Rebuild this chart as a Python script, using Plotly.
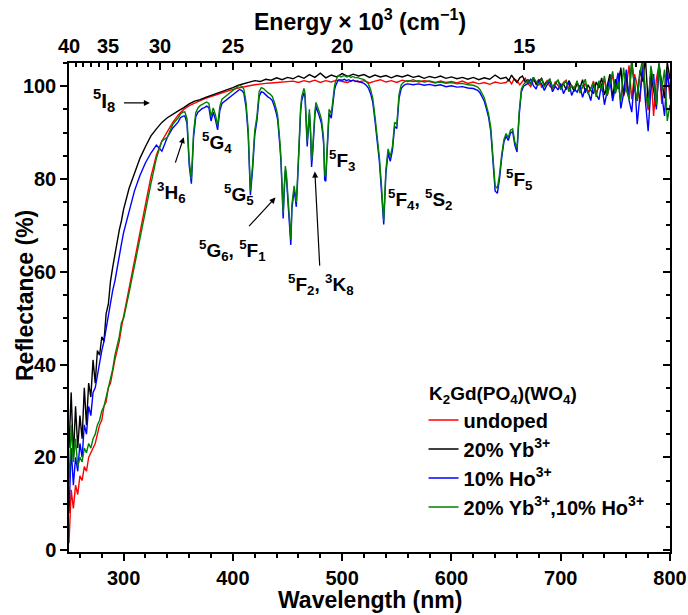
import plotly.graph_objects as go

# ---------------- data ----------------
def grid(*segs):
    out = []
    for a, b, s in segs:
        v = a
        while v <= b + 1e-9:
            out.append(round(v, 2))
            v += s
    return out

# sampling wavelengths (nm)
wl_rb = grid((250, 298, 2), (300, 645, 5), (650, 800, 2.5))
wl_ho = grid((250, 298, 2), (300, 350, 5), (352, 438, 2), (439, 499, 1),
             (500, 560, 2), (565, 615, 5), (620, 666, 2), (670, 800, 2.5))

r_undoped = [
    1.5, 13, 9, 14, 12, 16, 15, 18, 17, 20, 21, 22, 23, 25, 27, 28, 31, 32, 35, 36, 39, 41, 43, 45, 48,
    50.5, 56.5, 62.5, 68.5, 74.5, 80.5, 85.2, 88.2, 90.2, 92.2,
    93.8, 95.0, 95.8, 96.4, 96.9, 97.4, 97.8, 98.2, 98.6, 99.0,
    99.3, 99.6, 99.9, 100.1, 100.3, 100.5, 100.6, 100.7, 100.8, 100.8,
    100.9, 101.1, 100.8, 101.2, 100.9, 101.3, 100.8, 101.2, 100.9, 101.3,
    101.0, 100.8, 101.3, 100.9, 101.2, 100.7, 101.1, 101.4, 100.9, 101.2,
    100.8, 101.3, 101.0, 101.4, 100.9, 101.2, 101.0, 100.7, 101.1, 100.8,
    101.0, 100.7, 101.1, 100.6, 100.9, 100.5, 100.8, 100.4, 100.9, 100.6,
    100.8, 101.4, 100.5, 101.6, 101.2, 100.3, 101.0, 101.7, 100.6, 99.9,
    101.3, 100.7, 101.5, 99.8, 100.4, 101.2, 100.0, 99.5, 100.9, 100.2,
    99.4, 100.8, 101.3, 99.2, 100.1, 99.6, 101.0, 98.7, 99.9, 100.6,
    98.9, 99.4, 101.1, 98.3, 100.2, 99.0, 101.6, 97.9, 100.4, 102.4,
    98.6, 101.0, 103.6, 97.8, 99.8, 104.5, 97.2, 102.6, 100.3, 96.6,
    105.5, 99.0, 94.8, 103.2, 93.6, 101.4, 104.8, 96.2, 100.5, 103.6,
    97.2,
]

r_yb20 = [
    22, 34, 20, 31, 22, 29, 24, 35, 27, 36, 33, 41, 36, 43, 42, 46, 45, 51, 53, 58, 61, 64, 66, 69, 71,
    73.5, 78.0, 81.5, 84.5, 87.0, 89.3, 90.8, 92.2, 93.2, 94.0,
    94.7, 95.4, 96.2, 96.8, 97.1, 97.6, 98.0, 98.5, 98.9, 99.3,
    99.7, 100.2, 100.5, 100.8, 101.2, 101.0, 101.5, 101.3, 101.8, 101.4,
    101.9, 101.6, 102.2, 101.7, 102.5, 101.9, 102.8, 101.8, 102.4, 102.0,
    102.7, 102.1, 102.6, 102.2, 102.5, 101.9, 102.4, 102.0, 102.3, 101.8,
    102.3, 102.0, 102.4, 101.9, 102.2, 101.7, 102.1, 101.8, 102.2, 101.7,
    102.0, 101.6, 101.9, 101.5, 101.9, 101.4, 101.8, 101.5, 102.4, 101.6,
    101.9, 101.2, 102.4, 101.5, 100.8, 101.8, 102.2, 100.9, 101.4, 100.6,
    101.9, 100.4, 101.1, 101.7, 100.2, 100.9, 101.5, 99.7, 100.6, 101.3,
    99.8, 100.5, 99.3, 101.2, 100.0, 98.9, 100.7, 99.5, 101.4, 98.6,
    100.3, 99.1, 98.4, 100.9, 99.7, 101.8, 98.1, 100.0, 102.6, 97.6,
    101.5, 99.4, 104.0, 98.0, 102.2, 97.3, 105.6, 99.6, 96.8, 103.4,
    101.0, 106.0, 96.5, 102.8, 99.2, 95.6, 104.3, 100.4, 97.4, 105.2,
    101.5,
]

r_ho10 = [
    8, 22, 14, 20, 17, 23, 20, 27, 25, 31, 29, 34, 35, 38, 40, 43, 45, 48, 51, 53, 56, 58, 61, 64, 66,
    68.5, 73.2, 77.5, 80.8, 83.5, 85.6, 87.3, 86.0, 89.0, 91.0, 92.3,
    93.2, 93.5, 93.6, 92.0, 83.0, 79.0, 89.0, 93.4, 94.4, 94.9,
    95.2, 95.4, 95.7, 95.4, 92.5, 94.4, 92.8, 90.6, 94.7, 96.3,
    96.7, 97.0, 97.4, 97.8, 98.2, 98.5, 98.9, 99.3, 99.1, 98.5,
    95.5, 89.5, 76.5, 82.0, 89.5, 92.6, 97.8, 98.8, 98.6, 98.1,
    97.7, 97.4, 96.9, 95.6,
    94.9, 93.9, 92.7, 90.6, 87.1, 83.6, 77.0, 71.5, 77.6, 81.9,
    80.1, 76.6, 73.0, 67.5, 65.8, 73.6, 76.6, 77.6, 76.0, 74.0,
    78.6, 84.6, 90.6, 94.6, 96.9, 97.9, 98.6, 97.6, 92.6, 87.0,
    90.6, 94.1, 90.0, 82.6, 85.6, 90.5, 93.6, 95.6, 95.1, 94.3,
    93.6, 92.9, 92.0, 90.1, 87.6, 79.8, 79.5, 84.8, 90.1, 94.1,
    93.7, 93.1, 95.1, 97.7, 99.2, 100.1, 100.8, 101.2, 101.4, 101.4, 101.3,
    101.3, 101.5, 101.2, 101.4, 101.1, 101.3, 101.0, 101.1, 100.9, 100.8,
    100.6, 100.2, 99.6, 98.4, 96.5, 92.6, 88.6, 83.9, 77.2, 70.2,
    81.2, 85.6, 83.8, 86.2, 91.3, 90.9, 97.3, 99.5, 100.1, 100.4, 100.5,
    100.3, 100.5, 100.2, 100.4, 100.1, 100.3, 99.9, 100.1, 99.8, 99.9, 99.6,
    99.5, 99.3, 99.1, 98.6, 97.8, 96.8, 95.1, 93.3, 90.2, 83.6,
    77.4, 76.9, 80.0, 84.6, 88.0, 89.2, 88.3, 89.9, 90.2, 87.3,
    85.8, 93.8, 98.8, 100.0,
    100.6, 101.6, 100.1, 99.4, 101.2, 100.5, 99.1, 100.3, 101.0, 98.8,
    100.0, 99.2, 100.6, 98.4, 99.7, 100.9, 98.0, 99.4, 98.7, 100.2,
    97.6, 99.5, 98.8, 96.9, 100.4, 98.2, 97.1, 100.6, 96.0, 99.0,
    101.8, 96.8, 99.6, 102.9, 95.2, 98.4, 103.6, 97.0, 94.4, 101.8,
    91.8, 98.6, 104.2, 96.8, 90.3, 99.4, 102.6, 95.0, 104.8, 98.2,
    93.6, 103.0, 99.0,
]

r_yb20_ho10 = [
    14, 27, 19, 24, 18, 20, 19, 22, 21, 23, 22, 24, 25, 27, 28, 30, 31, 33, 35, 37, 39, 42, 44, 46, 49,
    50.0, 55.5, 61.5, 67.0, 73.0, 79.0, 84.5, 88.2, 89.0, 91.8, 93.2,
    94.0, 94.4, 94.5, 93.0, 84.0, 80.0, 90.0, 94.3, 95.3, 95.8,
    96.1, 96.3, 96.6, 96.3, 93.5, 95.3, 93.8, 91.5, 95.6, 97.2,
    97.6, 97.9, 98.3, 98.7, 99.1, 99.4, 99.8, 100.2, 100.0, 99.4,
    96.5, 90.5, 77.5, 83.0, 90.5, 93.5, 98.8, 99.7, 99.5, 99.0,
    98.6, 98.3, 97.8, 96.5,
    95.8, 94.8, 93.6, 91.5, 88.0, 84.5, 78.0, 72.7, 78.5, 82.8,
    81.0, 77.5, 74.0, 68.5, 67.0, 74.5, 77.5, 78.5, 77.0, 75.0,
    79.5, 85.5, 91.5, 95.5, 97.8, 98.8, 99.5, 98.5, 93.5, 88.0,
    91.5, 95.0, 91.0, 84.0, 86.5, 91.4, 94.5, 96.5, 96.0, 95.2,
    94.5, 93.8, 92.9, 91.0, 88.6, 81.0, 80.5, 85.7, 91.0, 95.0,
    94.6, 94.0, 96.0, 98.6, 100.1, 101.0, 101.8, 102.2, 102.3, 102.2, 102.0,
    102.1, 102.3, 102.0, 102.2, 101.9, 102.1, 101.8, 101.9, 101.7, 101.6,
    101.4, 101.0, 100.5, 99.3, 97.4, 93.5, 89.5, 84.8, 78.5, 71.0,
    82.0, 86.5, 84.8, 87.0, 92.2, 91.8, 98.2, 100.3, 100.8, 101.1, 101.2,
    101.0, 101.2, 100.9, 101.1, 100.8, 100.9, 100.6, 100.8, 100.5, 100.6, 100.3,
    100.2, 100.0, 99.8, 99.3, 98.5, 97.5, 95.8, 94.0, 91.0, 84.5,
    78.5, 78.0, 81.0, 85.3, 88.5, 89.8, 88.9, 90.5, 90.8, 88.0,
    86.6, 94.5, 99.4, 100.4,
    101.2, 100.4, 101.9, 101.0, 100.2, 101.6, 99.8, 100.9, 101.5, 99.6,
    100.7, 101.3, 99.2, 100.5, 101.0, 98.8, 100.1, 99.5, 101.2, 98.5,
    100.0, 101.5, 98.3, 99.6, 100.8, 97.7, 101.2, 99.0, 102.2, 97.9,
    100.6, 103.2, 98.4, 101.0, 96.6, 104.0, 99.2, 97.2, 105.4, 100.2,
    96.9, 103.0, 105.8, 98.6, 95.6, 104.4, 100.8, 96.0, 105.2, 99.4,
    103.6, 92.5, 96.0,
]

assert len(wl_rb) == len(r_undoped) == len(r_yb20), (len(wl_rb), len(r_undoped), len(r_yb20))
assert len(wl_ho) == len(r_ho10) == len(r_yb20_ho10), (len(wl_ho), len(r_ho10), len(r_yb20_ho10))

series_names = ["undoped", "20% Yb<sup>3+</sup>", "10% Ho<sup>3+</sup>",
                "20% Yb<sup>3+</sup>,10% Ho<sup>3+</sup>"]
series_colors = ["#ff0000", "#000000", "#0000ff", "#008000"]

x_ticks = [300, 400, 500, 600, 700, 800]
y_ticks = [0, 20, 40, 60, 80, 100]
energy_major = [40, 35, 30, 25, 20, 15]          # x 10^3 cm^-1
energy_minor = [39, 38, 37, 36, 34, 33, 32, 31, 29, 28, 27, 26, 24, 23, 22, 21,
                19, 18, 17, 16, 14, 13]

# ---------------- figure ----------------
FONT = "Liberation Sans, Arial, sans-serif"
BLK = "black"

fig = go.Figure()
data = [(wl_rb, r_undoped), (wl_rb, r_yb20), (wl_ho, r_ho10), (wl_ho, r_yb20_ho10)]
for (xs, ys), name, col in zip(data, series_names, series_colors):
    fig.add_trace(go.Scatter(x=xs, y=ys, mode="lines", name=name,
                             line=dict(color=col, width=1.4)))

# dummy trace to create the top / right axes
fig.add_trace(go.Scatter(x=[None], y=[None], xaxis="x2", yaxis="y2",
                         showlegend=False, hoverinfo="skip"))

tickfont = dict(family=FONT, size=20, color=BLK, weight="bold")
XR = [250, 800]
YR = [-0.4, 105]

def wl_of(e):
    return 1e7 / (e * 1000.0)

common = dict(showgrid=False, zeroline=False, automargin=False, showline=True,
              linewidth=1.5, linecolor=BLK, tickwidth=1.5, tickcolor=BLK, ticklen=7)

fig.update_layout(
    width=688, height=615,
    margin=dict(l=69, r=18, t=63, b=63, autoexpand=False),
    paper_bgcolor="white", plot_bgcolor="white",
    showlegend=True,
    xaxis=dict(range=XR, tickmode="array", tickvals=x_ticks, ticks="outside",
               tickfont=tickfont, **common,
               minor=dict(dtick=20, tick0=0, ticks="outside", ticklen=4, tickwidth=1.5,
                          tickcolor=BLK, showgrid=False)),
    yaxis=dict(range=YR, tickmode="array", tickvals=y_ticks, ticks="outside",
               tickfont=tickfont, **common,
               minor=dict(dtick=5, tick0=0, ticks="outside", ticklen=4, tickwidth=1.5,
                          tickcolor=BLK, showgrid=False)),
    xaxis2=dict(range=XR, overlaying="x", side="top", anchor="y2", tickmode="array",
                tickvals=[wl_of(e) for e in energy_major],
                ticktext=[str(e) for e in energy_major], ticks="inside",
                tickfont=tickfont, **common,
                minor=dict(tickmode="array", tickvals=[wl_of(e) for e in energy_minor],
                           ticks="inside", ticklen=4, tickwidth=1.5, tickcolor=BLK,
                           showgrid=False)),
    yaxis2=dict(range=YR, overlaying="y", side="right", anchor="x2", tickmode="array",
                tickvals=y_ticks, ticks="inside", showticklabels=False, **common,
                minor=dict(dtick=5, tick0=0, ticks="inside", ticklen=4, tickwidth=1.5,
                           tickcolor=BLK, showgrid=False)),
    legend=dict(x=0.5899, y=0.3098, xanchor="left", yanchor="top",
                bgcolor="rgba(0,0,0,0)", borderwidth=0,
                font=dict(family=FONT, size=20, color=BLK, weight="bold"),
                itemwidth=30),
)

ann_font = dict(family=FONT, size=19, color=BLK, weight="bold")
title_font = dict(family=FONT, size=23, color=BLK, weight="bold")

annotations = [
    # axis titles
    dict(text="Wavelength (nm)", xref="paper", yref="paper", x=0.5008, y=-0.0982,
         showarrow=False, font=title_font, xanchor="center", yanchor="middle"),
    dict(text="Reflectance (%)", xref="paper", yref="paper", x=-0.0732, y=0.5235,
         showarrow=False, font=title_font, textangle=-90, xanchor="center", yanchor="middle"),
    dict(text="Energy \u00d7 10<sup>3</sup> (cm<sup>\u22121</sup>)", xref="paper", yref="paper",
         x=0.4842, y=1.088, showarrow=False, font=title_font, xanchor="center", yanchor="middle"),
    # legend title
    dict(text="K<sub>2</sub>Gd(PO<sub>4</sub>)(WO<sub>4</sub>)", xref="x", yref="y",
         x=577.5, y=33.5, showarrow=False, xanchor="left", yanchor="middle",
         font=dict(family=FONT, size=19, color=BLK, weight="bold")),
    # level labels
    dict(text="<sup>5</sup>I<sub>8</sub>", x=281.7, y=96.9, showarrow=False,
         font=dict(family=FONT, size=21, color=BLK, weight="bold")),
    dict(text="<sup>3</sup>H<sub>6</sub>", x=344, y=77.0, showarrow=False, font=ann_font),
    dict(text="<sup>5</sup>G<sub>4</sub>", x=385, y=87.8, showarrow=False, font=ann_font),
    dict(text="<sup>5</sup>G<sub>5</sub>", x=406, y=76.7, showarrow=False, font=ann_font),
    dict(text="<sup>5</sup>G<sub>6</sub>, <sup>5</sup>F<sub>1</sub>", x=400, y=64.5,
         showarrow=False, font=ann_font),
    dict(text="<sup>5</sup>F<sub>2</sub>, <sup>3</sup>K<sub>8</sub>", x=481, y=57.2,
         showarrow=False, font=ann_font),
    dict(text="<sup>5</sup>F<sub>3</sub>", x=499.5, y=83.9, showarrow=False, font=ann_font),
    dict(text="<sup>5</sup>F<sub>4</sub>, <sup>5</sup>S<sub>2</sub>", x=571, y=75.6,
         showarrow=False, font=ann_font),
    dict(text="<sup>5</sup>F<sub>5</sub>", x=662.6, y=79.9, showarrow=False, font=ann_font),
    # arrows
    dict(text="", x=324, y=96.4, ax=299, ay=96.4, axref="x", ayref="y",
         showarrow=True, arrowhead=2, arrowsize=1, arrowwidth=1.2, arrowcolor=BLK),
    dict(text="", x=355, y=89.0, ax=346.9, ay=83.2, axref="x", ayref="y",
         showarrow=True, arrowhead=2, arrowsize=1, arrowwidth=1.2, arrowcolor=BLK),
    dict(text="", x=439, y=76.0, ax=413.5, ay=69.5, axref="x", ayref="y",
         showarrow=True, arrowhead=2, arrowsize=1, arrowwidth=1.2, arrowcolor=BLK),
    dict(text="", x=475, y=81.6, ax=479.5, ay=61.0, axref="x", ayref="y",
         showarrow=True, arrowhead=2, arrowsize=1, arrowwidth=1.2, arrowcolor=BLK),
]
fig.update_layout(annotations=annotations)

fig.write_html("out.html", config={"displayModeBar": False},
               post_script="document.body.style.margin='0px';")
